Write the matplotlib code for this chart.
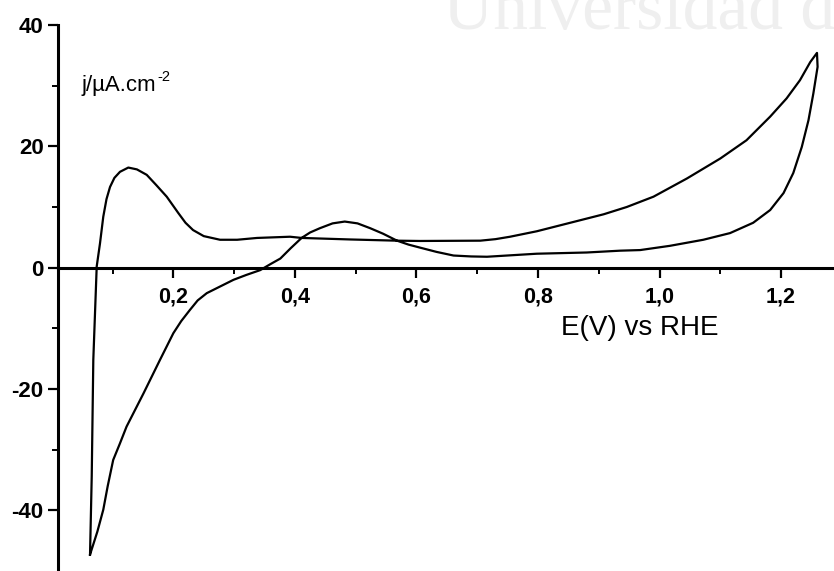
import matplotlib
matplotlib.use("Agg")
import matplotlib.pyplot as plt
from matplotlib.ticker import FixedLocator
from matplotlib.transforms import offset_copy

# ---- data ----
E_anodic = [0.0629, 0.0657, 0.0683, 0.0739, 0.0793, 0.0847, 0.0900, 0.0958, 0.1030,
            0.1122, 0.1259, 0.1400, 0.1562, 0.1720, 0.1891, 0.2082, 0.2200, 0.2324,
            0.2500, 0.2768, 0.3050, 0.3377, 0.3920, 0.4112, 0.4907, 0.5676, 0.606,
            0.705, 0.730, 0.754, 0.798, 0.853, 0.908, 0.946, 0.990, 1.045,
            1.100, 1.143, 1.182, 1.209, 1.231, 1.248, 1.259]
j_anodic = [-47.3, -34.4, -15.2, 0.2, 4.0, 8.4, 11.3, 13.3, 14.8,
            15.8, 16.5, 16.2, 15.3, 13.6, 11.7, 9.0, 7.4, 6.2,
            5.2, 4.6, 4.6, 4.9, 5.1, 4.9, 4.65, 4.45, 4.4,
            4.45, 4.7, 5.1, 6.0, 7.4, 8.8, 10.0, 11.7, 14.7,
            18.0, 21.0, 24.9, 27.9, 30.9, 33.9, 35.4]

E_cathodic = [1.260, 1.253, 1.245, 1.234, 1.220, 1.204, 1.182, 1.154, 1.116, 1.072,
              1.017, 0.968, 0.935, 0.880, 0.798, 0.716, 0.690, 0.661, 0.633, 0.606,
              0.587, 0.568, 0.545, 0.524, 0.503, 0.482, 0.462, 0.441, 0.425, 0.411,
              0.393, 0.376, 0.360, 0.343, 0.320, 0.299, 0.255, 0.240, 0.227, 0.213,
              0.200, 0.178, 0.151, 0.123, 0.112, 0.101, 0.092, 0.0847, 0.075, 0.0629]
j_cathodic = [33.1, 28.7, 24.3, 19.9, 15.6, 12.3, 9.5, 7.4, 5.7, 4.6,
              3.6, 2.9, 2.8, 2.5, 2.3, 1.8, 1.85, 2.0, 2.6, 3.3,
              3.8, 4.45, 5.6, 6.5, 7.3, 7.6, 7.3, 6.5, 5.8, 4.9,
              3.2, 1.5, 0.6, -0.4, -1.2, -2.0, -4.2, -5.4, -7.0, -8.8,
              -10.8, -15.2, -20.7, -26.2, -29.0, -31.7, -36.0, -39.9, -43.5, -47.3]

x_major = [0.2, 0.4, 0.6, 0.8, 1.0, 1.2]
x_major_labels = ["0,2", "0,4", "0,6", "0,8", "1,0", "1,2"]
x_minor = [0.1, 0.3, 0.5, 0.7, 0.9, 1.1]
y_major = [-40, -20, 0, 20, 40]
y_minor = [-30, -10, 10, 30]

plt.rcParams['font.family'] = ['Liberation Sans', 'DejaVu Sans']
plt.rcParams['axes.unicode_minus'] = False

fig = plt.figure(figsize=(8.34, 5.71), dpi=100)
fig.patch.set_facecolor('white')

# faint watermark
fig.text(443 / 834, 1 - 29 / 571, "Universidad de", family='Liberation Serif',
         fontsize=50, color='#efefef', ha='left', va='baseline', zorder=0)

ax = fig.add_axes([58.3 / 834, 0.0, 1 - 58.3 / 834, 546 / 571])
ax.patch.set_alpha(0)
ax.set_xlim(0.0107, 1.287)
ax.set_ylim(-50, 40)

ax.plot(E_anodic + E_cathodic, j_anodic + j_cathodic, color='black', lw=1.6,
        solid_joinstyle='round', clip_on=False)

for s in ['top', 'right']:
    ax.spines[s].set_visible(False)
ax.spines['bottom'].set_position(('data', 0))
ax.spines['bottom'].set_linewidth(2.2)
ax.spines['left'].set_linewidth(2.2)

ax.xaxis.set_major_locator(FixedLocator(x_major))
ax.set_xticklabels(x_major_labels)
ax.xaxis.set_minor_locator(FixedLocator(x_minor))
ax.yaxis.set_major_locator(FixedLocator(y_major))
ax.yaxis.set_minor_locator(FixedLocator(y_minor))

ax.tick_params(axis='x', which='major', direction='out', length=7, width=1.6,
               pad=6.5, labelsize=15.5)
ax.tick_params(axis='x', which='minor', direction='out', length=4, width=1.4)
ax.tick_params(axis='y', which='major', direction='out', length=7, width=1.6,
               pad=3.5, labelsize=16)
ax.tick_params(axis='y', which='minor', direction='out', length=4, width=1.4)
for lab in ax.get_xticklabels() + ax.get_yticklabels():
    lab.set_fontweight('bold')

ax.text(0.838, -11.1, "E(V) vs RHE", fontsize=20, ha='left', va='baseline')
ylab = ax.text(0.049, 29.2, "j/µA.cm", fontsize=16, ha='left', va='baseline')

# superscript "-2" placed right after the unit text
fig.canvas.draw()
bb = ylab.get_window_extent()
inv = ax.transData.inverted()
x_end, _ = inv.transform((bb.x1, bb.y0))
ax.text(x_end, 29.2, "-2", fontsize=10.5, ha='left', va='baseline',
        transform=offset_copy(ax.transData, fig=fig, x=0.5, y=7, units='points'))

fig.savefig("out.png", dpi=100)
